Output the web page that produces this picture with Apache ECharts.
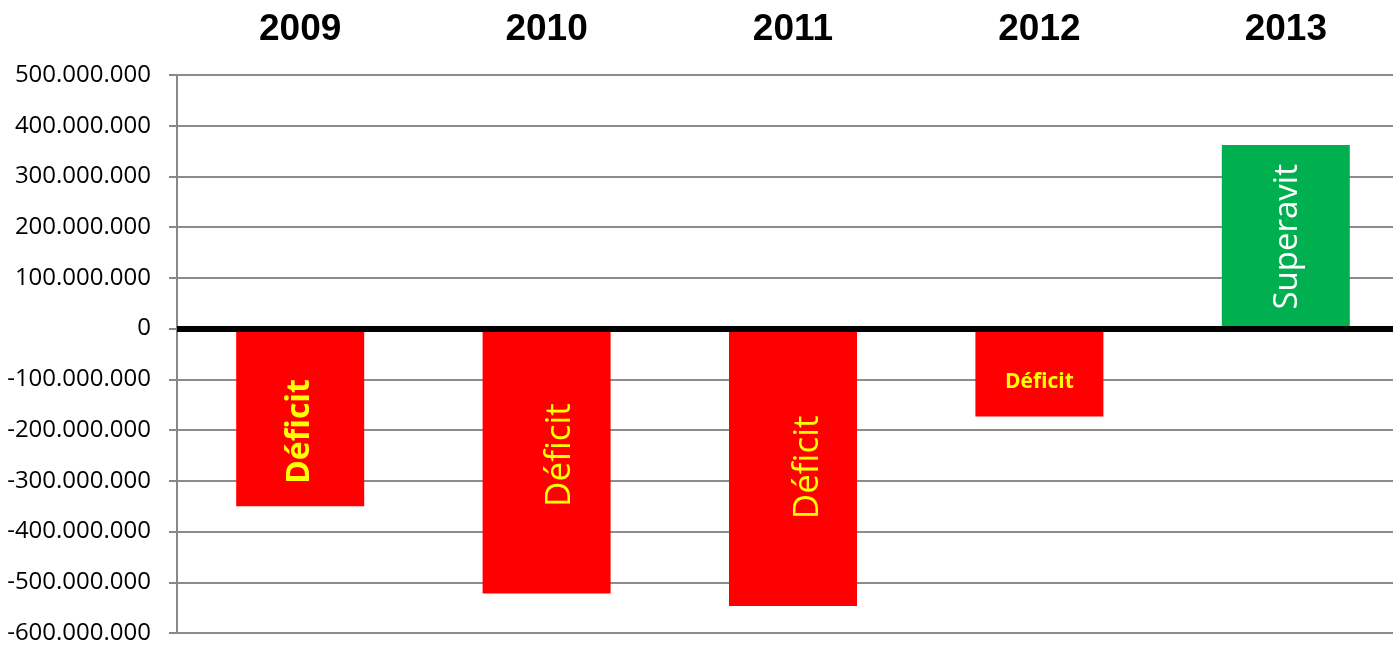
<!DOCTYPE html>
<html>
<head>
<meta charset="utf-8">
<script src="https://cdn.jsdelivr.net/npm/echarts@6/dist/echarts.min.js"></script>
<style>html,body{margin:0;padding:0;background:#fff;overflow:hidden}#c{width:1409px;height:645px}</style>
</head>
<body>
<div id="c"></div>
<script>
const years = ['2009', '2010', '2011', '2012', '2013'];
const balance = [-350000000, -522000000, -547000000, -173000000, 362000000];
const barLabels = ['Déficit', 'Déficit', 'Déficit', 'Déficit', 'Superavit'];
const yTicks = { min: -600000000, max: 500000000, interval: 100000000 };

function fmt(v) {
  const s = Math.abs(v).toString().replace(/\B(?=(\d{3})+(?!\d))/g, '.');
  return (v < 0 ? '-' : '') + s;
}

const labelStyles = [
  { rotate: 90, fontWeight: 'bold', fontSize: 32, color: '#FFFF00', offset: [-14, 0] },
  { rotate: 90, fontWeight: 'normal', fontSize: 35, color: '#FFFF00', offset: [6, 13] },
  { rotate: 90, fontWeight: 'normal', fontSize: 35, color: '#FFFF00', offset: [0, 15] },
  { rotate: 0, fontWeight: 'bold', fontSize: 21, color: '#FFFF00', position: 'insideTop', offset: [0, 38] },
  { rotate: 90, fontWeight: 'normal', fontSize: 33, color: '#FFFFFF', offset: [0, 2] }
];

const data = balance.map((v, i) => {
  const ls = labelStyles[i];
  return {
    value: v,
    itemStyle: { color: v < 0 ? '#FF0000' : '#00B050' },
    label: {
      show: true,
      formatter: barLabels[i],
      position: ls.position || 'inside',
      rotate: ls.rotate,
      offset: ls.offset,
      color: ls.color,
      fontSize: ls.fontSize,
      fontWeight: ls.fontWeight,
      fontFamily: 'Open Sans'
    }
  };
});

const chart = echarts.init(document.getElementById('c'));
chart.setOption({
  animation: false,
  grid: { left: 177, right: 0, top: 75, bottom: 11 },
  xAxis: {
    type: 'category',
    data: years,
    position: 'top',
    axisLine: { show: false },
    axisTick: { show: false },
    axisLabel: {
      margin: 27,
      color: '#000',
      fontFamily: 'Liberation Sans, Arial',
      fontWeight: 'bold',
      fontSize: 37
    }
  },
  yAxis: {
    type: 'value',
    min: yTicks.min,
    max: yTicks.max,
    interval: yTicks.interval,
    axisLine: { show: true, lineStyle: { color: '#888', width: 2 } },
    axisTick: { show: true, length: 8, lineStyle: { color: '#888', width: 2 } },
    splitLine: { show: true, lineStyle: { color: '#8c8c8c', width: 2 } },
    axisLabel: {
      formatter: fmt,
      color: '#000',
      fontFamily: 'Open Sans',
      fontSize: 24,
      margin: 26
    }
  },
  series: [{
    type: 'bar',
    data: data,
    barWidth: 128,
    markLine: {
      silent: true,
      symbol: 'none',
      label: { show: false },
      lineStyle: { color: '#000', width: 6, type: 'solid' },
      data: [{ yAxis: 0 }]
    }
  }]
});
</script>
</body>
</html>
